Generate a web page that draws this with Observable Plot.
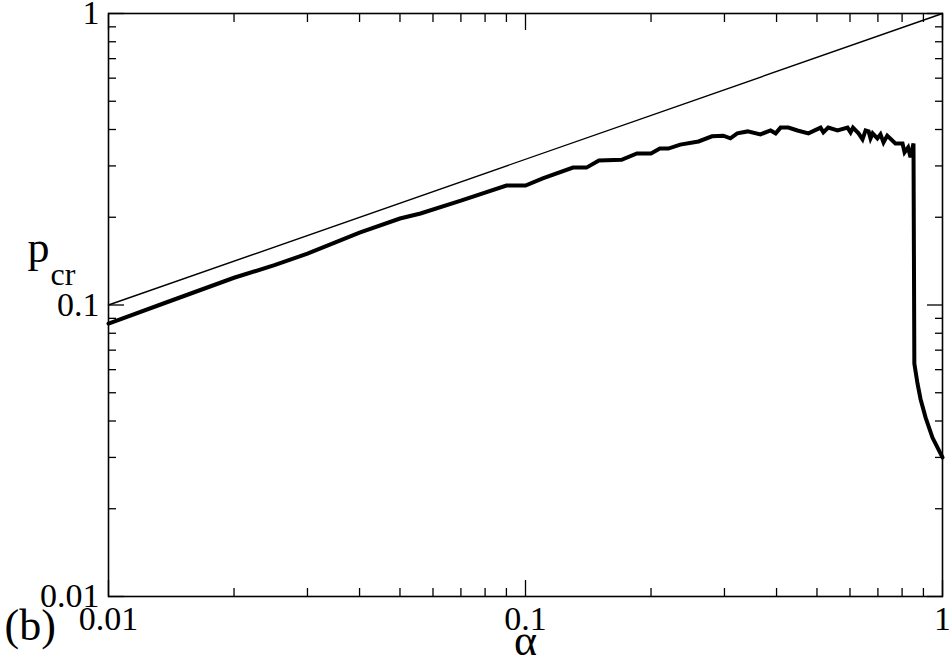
<!DOCTYPE html>
<html>
<head>
<meta charset="utf-8">
<script src="https://cdn.jsdelivr.net/npm/d3@7"></script>
<script src="https://cdn.jsdelivr.net/npm/@observablehq/plot@0.6"></script>
<style>
  html, body { margin: 0; padding: 0; background: white; }
  svg, svg text { font-family: "Liberation Serif", "DejaVu Serif", serif !important; }
</style>
</head>
<body>
<div id="chart"></div>
<script>
// Thick curve: p_cr versus alpha
const alpha = [0.01, 0.01385, 0.02, 0.025, 0.03, 0.035, 0.04, 0.05, 0.056, 0.07, 0.09, 0.1, 0.11, 0.13, 0.14, 0.15, 0.17, 0.185, 0.2, 0.21, 0.22, 0.235, 0.26, 0.28, 0.298, 0.31, 0.322, 0.341, 0.366, 0.387, 0.398, 0.409, 0.427, 0.449, 0.477, 0.51, 0.518, 0.532, 0.56, 0.592, 0.602, 0.61, 0.629, 0.643, 0.654, 0.665, 0.672, 0.68, 0.698, 0.71, 0.722, 0.737, 0.771, 0.802, 0.811, 0.827, 0.838, 0.852, 0.856, 0.871, 0.886, 0.911, 0.946, 1.0];
const pcr   = [0.0864, 0.1024, 0.124, 0.137, 0.150, 0.164, 0.177, 0.198, 0.206, 0.228, 0.257, 0.257, 0.272, 0.296, 0.296, 0.313, 0.315, 0.331, 0.331, 0.344, 0.344, 0.355, 0.364, 0.379, 0.381, 0.373, 0.388, 0.394, 0.385, 0.397, 0.388, 0.406, 0.406, 0.397, 0.388, 0.406, 0.391, 0.406, 0.397, 0.406, 0.391, 0.406, 0.388, 0.370, 0.397, 0.394, 0.373, 0.388, 0.373, 0.385, 0.361, 0.381, 0.358, 0.358, 0.334, 0.347, 0.321, 0.358, 0.063, 0.0538, 0.0475, 0.0411, 0.0351, 0.0300];

// Thin reference line endpoints
const refAlpha = [0.01, 1];
const refP = [0.1, 1];

// Axis ticks
const majorTicks = [0.01, 0.1, 1];
const majorLabels = ["0.01", "0.1", "1"];
const minorTicks = [0.02, 0.03, 0.04, 0.05, 0.06, 0.07, 0.08, 0.09, 0.2, 0.3, 0.4, 0.5, 0.6, 0.7, 0.8, 0.9];

const xLabel = "α";
const yLabelMain = "p";
const yLabelSub = "cr";
const panelLabel = "(b)";

const curve = alpha.map((a, i) => ({a, p: pcr[i]}));
const ref = refAlpha.map((a, i) => ({a, p: refP[i]}));
const fmt = (d) => majorLabels[majorTicks.indexOf(d)];
const blank = () => "";

const serif = "Liberation Serif";
const MAJ = 16, MIN = 8;

const chart = Plot.plot({
  width: 949,
  height: 661,
  marginLeft: 108,
  marginRight: 7,
  marginTop: 13,
  marginBottom: 65,
  x: {type: "log", domain: [0.01, 1], label: null},
  y: {type: "log", domain: [0.01, 1], label: null},
  style: {fontFamily: serif, background: "white", color: "black"},
  marks: [
    // inward ticks, bottom
    Plot.axisX({anchor: "bottom", ticks: majorTicks, tickSize: MAJ, dy: -MAJ, tickFormat: blank, strokeWidth: 1.3, label: null}),
    Plot.axisX({anchor: "bottom", ticks: minorTicks, tickSize: MIN, dy: -MIN, tickFormat: blank, strokeWidth: 1.3, label: null}),
    // inward ticks, top
    Plot.axisX({anchor: "top", ticks: majorTicks, tickSize: MAJ, dy: MAJ, tickFormat: blank, strokeWidth: 1.3, label: null}),
    Plot.axisX({anchor: "top", ticks: minorTicks, tickSize: MIN, dy: MIN, tickFormat: blank, strokeWidth: 1.3, label: null}),
    // inward ticks, left
    Plot.axisY({anchor: "left", ticks: majorTicks, tickSize: MAJ, dx: MAJ, tickFormat: blank, strokeWidth: 1.3, label: null}),
    Plot.axisY({anchor: "left", ticks: minorTicks, tickSize: MIN, dx: MIN, tickFormat: blank, strokeWidth: 1.3, label: null}),
    // inward ticks, right
    Plot.axisY({anchor: "right", ticks: majorTicks, tickSize: MAJ, dx: -MAJ, tickFormat: blank, strokeWidth: 1.3, label: null}),
    Plot.axisY({anchor: "right", ticks: minorTicks, tickSize: MIN, dx: -MIN, tickFormat: blank, strokeWidth: 1.3, label: null}),
    // tick labels
    Plot.axisX({anchor: "bottom", ticks: majorTicks, tickSize: 0, tickPadding: 9, tickFormat: fmt, fontSize: 34, fontFamily: serif, label: null}),
    Plot.axisY({anchor: "left", ticks: majorTicks, tickSize: 0, tickPadding: 9, tickFormat: fmt, fontSize: 34, fontFamily: serif, label: null}),
    // data
    Plot.line(ref, {x: "a", y: "p", stroke: "black", strokeWidth: 1.4}),
    Plot.line(curve, {x: "a", y: "p", stroke: "black", strokeWidth: 4, strokeLinejoin: "miter", strokeMiterlimit: 4}),
    Plot.frame({stroke: "black", strokeWidth: 1.6}),
    // axis labels
    Plot.text([xLabel], {frameAnchor: "bottom", dy: 58, fontSize: 44, fontFamily: serif, fill: "black"}),
    Plot.text([yLabelMain], {frameAnchor: "left", textAnchor: "start", dx: -81, dy: -57, fontSize: 44, fontFamily: serif, fill: "black"}),
    Plot.text([yLabelSub], {frameAnchor: "left", textAnchor: "start", dx: -58, dy: -30, fontSize: 32, fontFamily: serif, fill: "black"}),
    Plot.text([panelLabel], {frameAnchor: "bottom-left", textAnchor: "start", dx: -104, dy: 43, fontSize: 44, fontFamily: serif, fill: "black"})
  ]
});
document.getElementById("chart").appendChild(chart);
</script>
</body>
</html>
